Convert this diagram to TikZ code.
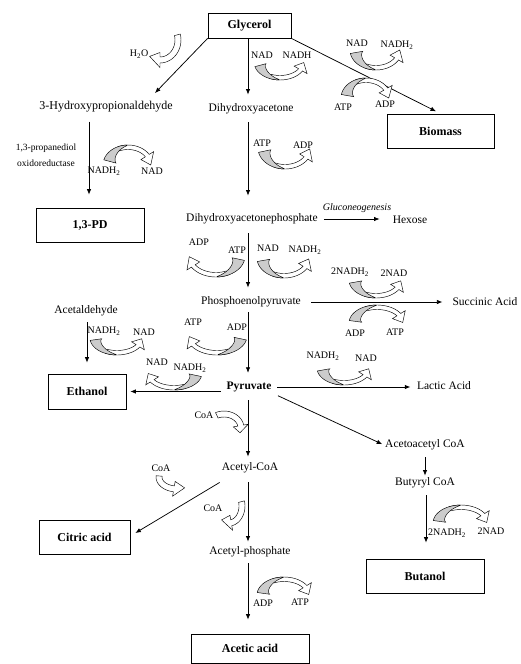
\documentclass[tikz,border=0pt]{standalone}
\usepackage{fontspec}
\setmainfont{Liberation Serif}
\usetikzlibrary{arrows.meta,calc}
\colorlet{cofgray}{gray!40}
\newcommand\cfWB{4.5}
\newcommand\cfHW{7.5}
\newcommand\cfWBW{6}
\newcommand\cfHWW{7.5}
% cofactor arrow: cx cy rx ry a_tail a_mid a_head a_tip Wgray
\newcommand\cofarr[9]{%
\pgfmathsetmacro\cfCX{#1}\pgfmathsetmacro\cfCY{#2}%
\pgfmathsetmacro\cfRX{#3}\pgfmathsetmacro\cfRY{#4}%
\pgfmathsetmacro\cfAa{#5}\pgfmathsetmacro\cfAm{#6}%
\pgfmathsetmacro\cfAh{#7}\pgfmathsetmacro\cfAt{#8}\pgfmathsetmacro\cfW{#9}%
\pgfmathsetmacro\cfAs{\cfAm-0.3*(\cfAm-\cfAa)}%
\filldraw[cofline,fill=white]
  plot[domain=\cfAs:\cfAh,samples=16] ({\cfCX+\cfRX*cos(\x)},{\cfCY+\cfRY*sin(\x)})
  -- ({\cfCX+(\cfRX-\cfWB/2+\cfHW)*cos(\cfAh)},{\cfCY+(\cfRY-\cfWB/2+\cfHW)*sin(\cfAh)})
  -- ({\cfCX+(\cfRX-\cfWB/2)*cos(\cfAt)},{\cfCY+(\cfRY-\cfWB/2)*sin(\cfAt)})
  -- ({\cfCX+(\cfRX-\cfWB/2-\cfHW)*cos(\cfAh)},{\cfCY+(\cfRY-\cfWB/2-\cfHW)*sin(\cfAh)})
  -- plot[domain=\cfAh:\cfAs,samples=16] ({\cfCX+(\cfRX-\cfWB)*cos(\x)},{\cfCY+(\cfRY-\cfWB)*sin(\x)})
  -- cycle;
\filldraw[cofline,fill=cofgray]
  plot[domain=\cfAa:\cfAm,samples=16] ({\cfCX+\cfRX*cos(\x)},{\cfCY+\cfRY*sin(\x)})
  -- plot[domain=\cfAm:\cfAa,samples=16] ({\cfCX+(\cfRX-0.5-\cfW*(\cfAm-\x)/(\cfAm-\cfAa))*cos(\x)},{\cfCY+(\cfRY-0.5-\cfW*(\cfAm-\x)/(\cfAm-\cfAa))*sin(\x)})
  -- cycle;
}
% white curved arrow: cx cy rx ry a_tail a_head a_tip
\newcommand\wharr[7]{%
\pgfmathsetmacro\cfCX{#1}\pgfmathsetmacro\cfCY{#2}%
\pgfmathsetmacro\cfRX{#3}\pgfmathsetmacro\cfRY{#4}%
\pgfmathsetmacro\cfAa{#5}\pgfmathsetmacro\cfAh{#6}\pgfmathsetmacro\cfAt{#7}%
\filldraw[cofline,fill=white]
  plot[domain=\cfAa:\cfAh,samples=16] ({\cfCX+\cfRX*cos(\x)},{\cfCY+\cfRY*sin(\x)})
  -- ({\cfCX+(\cfRX-\cfWBW/2+\cfHWW)*cos(\cfAh)},{\cfCY+(\cfRY-\cfWBW/2+\cfHWW)*sin(\cfAh)})
  -- ({\cfCX+(\cfRX-\cfWBW/2)*cos(\cfAt)},{\cfCY+(\cfRY-\cfWBW/2)*sin(\cfAt)})
  -- ({\cfCX+(\cfRX-\cfWBW/2-\cfHWW)*cos(\cfAh)},{\cfCY+(\cfRY-\cfWBW/2-\cfHWW)*sin(\cfAh)})
  -- plot[domain=\cfAh:\cfAa,samples=16] ({\cfCX+(\cfRX-\cfWBW)*cos(\x)},{\cfCY+(\cfRY-\cfWBW)*sin(\x)})
  -- cycle;
}
\begin{document}
\begin{tikzpicture}[x=1pt,y=-1pt,
  conn/.style={line width=0.75pt,-{Latex[length=5.5pt,width=4.5pt]}},
  cofline/.style={draw=black,line width=0.45pt},
  lbl/.style={font=\fontsize{11.5}{13}\selectfont,inner sep=1pt},
  cof/.style={font=\fontsize{10}{12}\selectfont,inner sep=0pt},
  prod/.style={draw,line width=0.75pt,font=\bfseries\fontsize{12}{14}\selectfont,inner sep=0pt}]
\useasboundingbox (0,0) rectangle (520,664);
\fill[white] (0,0) rectangle (520,664);

% column coordinates
\coordinate (col) at (248,0);
\coordinate (pdcol) at (89,0);
\coordinate (butcol) at (426,0);
\coordinate (hpaTip) at (155,93);

% product boxes
\node[prod,minimum width=83pt,minimum height=25pt] (glycerol) at (249.5,25.5) {Glycerol};
\node[prod,minimum width=107pt,minimum height=34pt] (biomass) at (440.5,131) {Biomass};
\node[prod,minimum width=108pt,minimum height=34pt] (pd) at (90,225) {1,3-PD};
\node[prod,minimum width=78pt,minimum height=35pt] (ethanol) at (87,391.5) {Ethanol};
\node[prod,minimum width=91pt,minimum height=34pt] (citric) at (84.5,537) {Citric acid};
\node[prod,minimum width=118pt,minimum height=29pt] (acetic) at (250,648.5) {Acetic acid};
\node[prod,minimum width=118pt,minimum height=34pt] (butanol) at (425,576) {Butanol};

% intermediates
\node[lbl,font=\fontsize{12}{14}\selectfont] (hpa) at (106,107) {3-Hydroxypropionaldehyde};
\node[lbl] (dha) at (251,109) {Dihydroxyacetone};
\node[lbl] (dhap) at (252,219) {Dihydroxyacetonephosphate};
\node[lbl] (hexose) at (410,220) {Hexose};
\node[cof,font=\itshape\fontsize{10}{12}\selectfont] (glu) at (357,208) {Gluconeogenesis};
\node[lbl] (pep) at (251,302) {Phosphoenolpyruvate};
\node[lbl] (succ) at (485,302) {Succinic Acid};
\node[lbl] (acetald) at (86,311) {Acetaldehyde};
\node[lbl,font=\bfseries\fontsize{11.5}{13}\selectfont] (pyr) at (249,387) {Pyruvate};
\node[lbl] (lactic) at (444,386) {Lactic Acid};
\node[lbl] (acac) at (425,445) {Acetoacetyl CoA};
\node[lbl] (butyryl) at (425,483) {Butyryl CoA};
\node[lbl] (acoa) at (250,468) {Acetyl-CoA};
\node[lbl] (acp) at (250,552) {Acetyl-phosphate};
\node[cof,align=center,font=\fontsize{9.5}{16}\selectfont] (enz) at (46,155) {1,3-propanediol\\oxidoreductase};

% connectors
\draw[conn,shorten >=8pt] (col |- glycerol.south) -- (col |- dha.north);
\draw[conn] (glycerol.south west) -- (hpaTip);
\draw[conn,shorten >=5pt] (glycerol.south east) -- (biomass.north);
\draw[conn,shorten <=8pt,shorten >=13pt] (pdcol |- hpa.south) -- (pdcol |- pd.north);
\draw[conn,shorten <=7pt,shorten >=17pt] (col |- dha.south) -- (col |- dhap.north);
\draw[conn,shorten <=5pt,shorten >=12pt] (dhap.east) -- (dhap.east -| hexose.west);
\draw[conn,shorten <=8pt,shorten >=8pt] (col |- dhap.south) -- (col |- pep.north);
\draw[conn,shorten <=9pt,shorten >=9pt] (pep.east) -- (pep.east -| succ.west);
\draw[conn,shorten <=4pt,shorten >=8pt] (col |- pep.south) -- (col |- pyr.north);
\draw[conn,shorten <=5pt,shorten >=11pt] (ethanol.north |- acetald.south) -- (ethanol.north);
\draw[conn,shorten <=4.5pt,shorten >=4pt] (pyr.west |- ethanol.east) -- (ethanol.east);
\draw[conn,shorten <=4.5pt,shorten >=5.5pt] (pyr.east) -- (pyr.east -| lactic.west);
\draw[conn,shorten <=6pt,shorten >=2pt] (pyr.south east) -- (acac.west);
\draw[conn,shorten <=7pt,shorten >=5pt] (col |- pyr.south) -- (col |- acoa.north);
\draw[conn,shorten <=6pt,shorten >=1pt] (acac.south) -- (butyryl.north);
\draw[conn,shorten <=6pt,shorten >=16pt] (butcol |- butyryl.south) -- (butcol |- butanol.north);
\draw[conn] ([shift={(-1,8)}]acoa.south west) -- ([shift={(5,-4)}]citric.east);
\draw[conn,shorten <=8pt,shorten >=4pt] (col |- acoa.south) -- (col |- acp.north);
\draw[conn,shorten <=5pt,shorten >=14pt] (col |- acp.south) -- (col |- acetic.north);

% cofactor labels
\node[cof] (h2o) at (139,54) {H\textsubscript{2}O};
\node[cof] (nadA) at (262,55) {NAD};
\node[cof] (nadhA) at (297,55) {NADH};
\node[cof] (nadB) at (357,43) {NAD};
\node[cof] (nadhB) at (397,45) {NADH\textsubscript{2}};
\node[cof] (atpB) at (343,107) {ATP};
\node[cof] (adpB) at (385,104) {ADP};
\node[cof] (atpC) at (262,143) {ATP};
\node[cof] (adpC) at (303,145) {ADP};
\node[cof] (nadhD) at (104,171) {NADH\textsubscript{2}};
\node[cof] (nadD) at (152,171) {NAD};
\node[cof] (adpE) at (199,242) {ADP};
\node[cof] (atpE) at (237,250) {ATP};
\node[cof] (nadF) at (268,248) {NAD};
\node[cof] (nadhF) at (305,250) {NADH\textsubscript{2}};
\node[cof] (nadhG) at (350,272) {2NADH\textsubscript{2}};
\node[cof] (nadG) at (394,273) {2NAD};
\node[cof] (adpH) at (355,333) {ADP};
\node[cof] (atpH) at (395,332) {ATP};
\node[cof] (atpI) at (193,322) {ATP};
\node[cof] (adpI) at (237,327) {ADP};
\node[cof] (nadhJ) at (104,331) {NADH\textsubscript{2}};
\node[cof] (nadJ) at (144,332) {NAD};
\node[cof] (nadK) at (157,362) {NAD};
\node[cof] (nadhK) at (190,368) {NADH\textsubscript{2}};
\node[cof] (nadhL) at (323,356) {NADH\textsubscript{2}};
\node[cof] (nadL) at (366,358) {NAD};
\node[cof] (coaM) at (204,415) {CoA};
\node[cof] (coaN) at (161,468) {CoA};
\node[cof] (coaO) at (213,508) {CoA};
\node[cof] (nadhP) at (447,533) {2NADH\textsubscript{2}};
\node[cof] (nadP) at (491,531) {2NAD};
\node[cof] (adpQ) at (263,603) {ADP};
\node[cof] (atpQ) at (300,602) {ATP};

% cofactor curved arrows
\cofarr{280}{62}{26}{18}{165}{92}{30}{2}{11}
\cofarr{376}{50}{26}{20}{170}{92}{30}{0}{12}
\cofarr{366}{98}{25}{20}{190}{268}{330}{360}{12}
\cofarr{285}{148}{27}{21}{168}{92}{32}{3}{12}
\cofarr{128}{165}{25}{20}{195}{268}{328}{360}{12}
\cofarr{216}{256}{29}{21}{12}{88}{148}{178}{12}
\cofarr{284}{258}{27}{20}{170}{92}{32}{3}{12}
\cofarr{376}{280}{27}{18}{170}{92}{32}{3}{12}
\cofarr{377}{323}{28}{18}{188}{268}{328}{358}{12}
\cofarr{217}{336}{30}{19}{12}{88}{148}{178}{12}
\cofarr{117}{338}{27}{17}{172}{92}{32}{3}{11}
\cofarr{174}{373}{28}{17}{12}{88}{148}{178}{12}
\cofarr{344}{368}{27}{17}{170}{92}{32}{3}{12}
\cofarr{461}{523}{28}{18}{188}{268}{328}{358}{12}
\cofarr{284}{595}{27}{18}{188}{268}{328}{358}{12}
% white arrows
\wharr{160}{40}{21}{23}{-15}{90}{125}
\wharr{224}{428}{20}{17}{245}{350}{380}
\wharr{177}{477}{21}{15}{185}{100}{65}
\wharr{229}{506}{16}{20}{-15}{80}{125}
\end{tikzpicture}
\end{document}
